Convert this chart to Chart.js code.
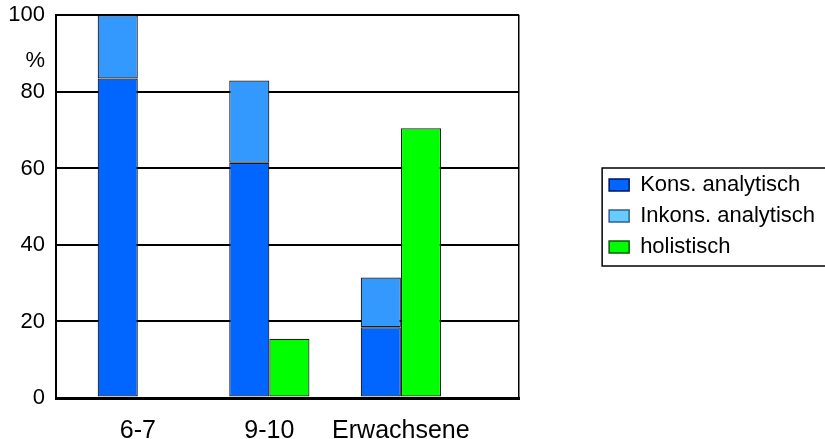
<!DOCTYPE html>
<html>
<head>
<meta charset="utf-8">
<script src="https://cdn.jsdelivr.net/npm/chart.js@4/dist/chart.umd.min.js"></script>
<style>
  html, body { margin: 0; padding: 0; background: #fff; }
  #wrap { width: 825px; height: 439px; }
</style>
</head>
<body>
<div id="wrap"><canvas id="c" width="825" height="439"></canvas></div>
<script>
// Altersgruppen und Anteile (%) der Strategien
const categories = ['6-7', '9-10', 'Erwachsene'];
const konsAnalytisch   = [83.5, 61.5, 18.5];
const inkonsAnalytisch = [16.5, 21.5, 13];
const holistisch       = [0, 15.5, 70.5];
const seriesNames = ['Kons. analytisch', 'Inkons. analytisch', 'holistisch'];
const yTickValues = [0, 20, 40, 60, 80, 100];
const unitTickValue = 88;   // Position der Einheit "%" an der y-Achse

const barColors    = ['#0066ff', '#3399ff', '#00ff00'];
const legendFills  = ['#0066ff', '#66ccff', '#00ff00'];
const legendLines  = ['#00135c', '#335f8a', '#0b5a0b'];

const FONT = '"Liberation Sans", Arial, sans-serif';

const toPoints = arr => arr.map((v, i) => ({ x: i, y: v }));

// Rahmen um die Legende
const legendFrame = {
  id: 'legendFrame',
  afterDraw(chart) {
    const lg = chart.legend;
    if (!lg || !lg.legendHitBoxes || !lg.legendHitBoxes.length) return;
    const hb = lg.legendHitBoxes;
    const top = hb[0].top - 6;
    const bottom = hb[hb.length - 1].top + hb[hb.length - 1].height + 8;
    const left = hb[0].left - 7;
    const ctx = chart.ctx;
    ctx.save();
    ctx.strokeStyle = '#000';
    ctx.lineWidth = 1.5;
    ctx.strokeRect(left, top, chart.width - left + 10, bottom - top);
    ctx.restore();
  }
};

new Chart(document.getElementById('c'), {
  type: 'bar',
  data: {
    datasets: [
      { label: seriesNames[0], data: toPoints(konsAnalytisch),   stack: 'analytisch', backgroundColor: barColors[0] },
      { label: seriesNames[1], data: toPoints(inkonsAnalytisch), stack: 'analytisch', backgroundColor: barColors[1] },
      { label: seriesNames[2], data: toPoints(holistisch),       stack: 'holistisch', backgroundColor: barColors[2] }
    ]
  },
  options: {
    responsive: false,
    animation: false,
    devicePixelRatio: 1,
    layout: { padding: { top: -7, left: 0, right: 0, bottom: 0 } },
    datasets: {
      bar: {
        categoryPercentage: 0.61,
        barPercentage: 1.0,
        borderColor: '#1e1e1e',
        borderWidth: 1.2,
        borderSkipped: false
      }
    },
    scales: {
      x: {
        type: 'linear',
        stacked: true,
        offset: false,
        min: -0.622,
        max: 2.899,
        afterBuildTicks(scale) {
          scale.ticks = categories.map((_, i) => ({ value: i }));
        },
        afterFit(scale) { scale.height = 41; },
        grid: { display: false, drawTicks: false },
        border: { display: true, color: '#000', width: 3 },
        ticks: {
          padding: 18,
          color: '#000',
          font: { family: FONT, size: 25 },
          callback: v => categories[v] ?? ''
        }
      },
      y: {
        stacked: true,
        min: 0,
        max: 100,
        afterFit(scale) { scale.width = 56; },
        afterBuildTicks(scale) {
          // Skalenwerte plus die Einheit "%" zwischen 80 und 100
          const t = yTickValues.map(v => ({ value: v }));
          t.splice(5, 0, { value: unitTickValue });
          scale.ticks = t;
        },
        grid: {
          drawTicks: false,
          color: c => (c.tick && c.tick.value === unitTickValue) ? 'rgba(0,0,0,0)' : '#000',
          lineWidth: c => (c.tick && c.tick.value === 0) ? 3 : 2
        },
        border: { display: true, color: '#000', width: 2 },
        ticks: {
          padding: 11,
          color: '#000',
          font: { family: FONT, size: 22, lineHeight: 0.4 },
          callback: v => v === unitTickValue ? '%' : String(v)
        }
      },
      yRight: {
        position: 'right',
        min: 0,
        max: 100,
        afterFit(scale) { scale.width = 81; },
        grid: { display: false, drawTicks: false },
        border: { display: true, color: '#000', width: 1.5 },
        ticks: { display: false }
      }
    },
    plugins: {
      tooltip: { enabled: false },
      legend: {
        position: 'right',
        maxWidth: 300,
        labels: {
          boxWidth: 20,
          boxHeight: 12,
          padding: 9,
          color: '#000',
          font: { family: FONT, size: 22 },
          generateLabels(chart) {
            const items = Chart.defaults.plugins.legend.labels.generateLabels(chart);
            items.forEach((it, i) => {
              it.fillStyle = legendFills[i];
              it.strokeStyle = legendLines[i];
              it.lineWidth = 1.5;
            });
            return items;
          }
        }
      }
    }
  },
  plugins: [legendFrame]
});
</script>
</body>
</html>
